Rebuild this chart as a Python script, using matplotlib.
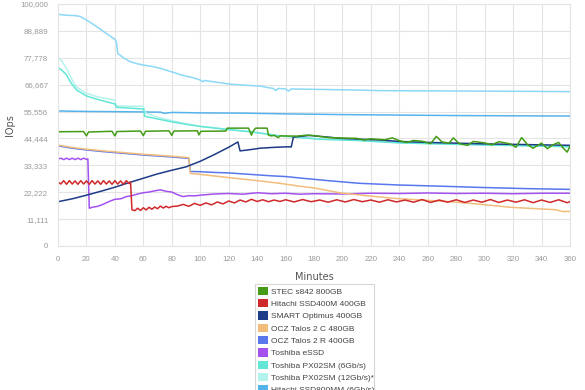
import matplotlib
matplotlib.use("Agg")
import matplotlib.pyplot as plt
from matplotlib.patches import Patch

# ---- data (minutes, IOps) ----
stec_x = [0, 18, 20, 21.5, 38, 40, 41.5, 58, 60, 61.5, 78, 80, 81.5, 98, 99, 100.5, 118, 119, 134, 135, 136, 137,
          139, 147, 148, 150, 152, 155, 156, 168, 175, 180, 190, 200, 210, 215, 220, 230, 235, 240, 245, 250, 256,
          262, 266, 270, 275, 278, 282, 288, 292, 300, 305, 310, 318, 322, 326, 330, 334, 340, 344, 348, 352, 355,
          358, 360]
stec_y = [47200, 47300, 45500, 47100, 47400, 45500, 47300, 47500, 45600, 47400, 47600, 45700, 47500, 47600, 45900,
          47400, 47500, 48700, 48700, 47300, 45800, 47300, 48700, 48700, 45800, 45500, 45700, 44800, 45500, 45400,
          45800, 45600, 44800, 44600, 44500, 43800, 44300, 43900, 44700, 43500, 42800, 43600, 43300, 42300, 45300,
          43000, 42500, 44700, 42300, 41600, 43200, 42600, 41800, 43100, 42200, 40800, 44800, 42000, 40400, 42500,
          40200, 41800, 42800, 40600, 38800, 41200]

hit400_x = [0, 2, 4, 6, 8, 10, 12, 14, 16, 18, 20, 22, 24, 26, 28, 30, 32, 34, 36, 38, 40, 42, 44, 46, 48, 50, 51,
            52, 54, 56, 58, 60, 62, 64, 66, 68, 70, 72, 74, 76, 78, 80, 84, 88, 92, 96, 100, 104, 108, 112, 116, 120,
            124, 128, 132, 136, 140, 144, 148, 152, 156, 160, 166, 172, 178, 184, 190, 196, 202, 208, 214, 220, 226,
            232, 238, 244, 250, 256, 262, 268, 274, 280, 286, 292, 298, 304, 310, 316, 322, 328, 334, 340, 346, 352,
            358, 360]
hit400_y = [26500, 25600, 27000, 25500, 27000, 25600, 26900, 25500, 27000, 25600, 26900, 25500, 27000, 25600, 26900,
            25500, 27000, 25600, 26900, 25500, 27000, 25600, 26900, 25500, 27000, 25800, 26500,
            15000, 14600, 15600, 14700, 15800, 14900, 16000, 15200, 16100, 15400, 16500, 15700, 16400, 15800, 16300,
            16500, 17200, 16400, 17600, 16800, 17800, 17000, 18200, 17400, 18600, 17800, 19000, 18200, 19300, 18400,
            19100, 18300, 19000, 18400, 19100, 18200, 19200, 18300, 19000, 18100, 19100, 18200, 19200, 18300, 19000,
            18100, 19100, 18200, 19000, 18100, 19200, 18000, 19000, 18100, 19100, 18000, 19000, 18100, 19200, 18000,
            19000, 18100, 19100, 17900, 19000, 18000, 19100, 17900, 18300]

smart_x = [0, 10, 20, 30, 40, 50, 60, 70, 80, 90, 100, 110, 120, 126.5, 128, 135, 142, 150, 157, 163, 164, 165.5,
           170, 177, 182, 190, 198, 210, 226, 240, 260, 280, 300, 320, 340, 360]
smart_y = [18300, 19500, 21000, 22600, 24300, 26200, 28000, 29800, 31300, 32700, 35000, 37800, 40800, 43000, 39300,
           39800, 40400, 40700, 40900, 41000, 40900, 45000, 45300, 45700, 45400, 45000, 44500, 44200, 43800, 43200,
           42800, 42500, 42200, 42000, 41800, 41600]

oczc_x = [0, 10, 20, 30, 40, 50, 60, 70, 80, 90, 92, 93, 100, 121, 140, 156, 170, 180, 198, 215, 236, 255, 276, 296,
          318, 340, 350, 355, 360]
oczc_y = [41700, 40700, 40000, 39400, 38900, 38400, 37900, 37500, 37100, 36600, 36500, 30000, 29600, 28200, 27000,
          25900, 24700, 24000, 22000, 20900, 19700, 19000, 18300, 17300, 16000, 15300, 15000, 14200, 14300]

oczr_x = [0, 10, 20, 30, 40, 50, 60, 70, 80, 90, 92, 93, 100, 110, 120, 135, 150, 160, 170, 190, 212, 240, 270, 297,
          330, 360]
oczr_y = [41400, 40400, 39700, 39100, 38600, 38100, 37600, 37200, 36800, 36300, 36200, 30800, 30700, 30400, 30200,
          29600, 29000, 28700, 28100, 27000, 25900, 25200, 24700, 24200, 23700, 23400]

essd_x = [0, 2, 4, 6, 8, 10, 12, 14, 16, 18, 20, 21, 22, 24, 28, 32, 36, 40, 44, 48, 52, 56, 60, 64, 68, 72, 76, 80,
          84, 88, 92, 96, 100, 110, 120, 130, 140, 150, 160, 170, 180, 200, 220, 240, 260, 280, 300, 320, 340, 360]
essd_y = [35900, 36300, 35700, 36300, 35700, 36300, 35700, 36300, 35700, 36300, 35800, 36000, 15600, 16000, 16400,
          17300, 18400, 19300, 19500, 20400, 20800, 21500, 22000, 22300, 22800, 23200, 22600, 22300, 21200, 20400,
          20800, 20700, 21000, 21500, 21700, 21400, 22000, 21600, 21800, 21400, 21600, 21500, 21800, 21700, 21900,
          21700, 21800, 21600, 21800, 21800]

px6_x = [0, 3, 6, 9, 13, 20, 29.5, 40, 41, 50, 60, 61, 70, 80, 90, 100, 120, 135, 156, 184, 210, 240, 280, 320, 360]
px6_y = [73800, 72500, 70700, 67500, 64500, 62000, 60300, 58700, 57300, 57000, 56600, 53600, 52500, 51300, 50300,
         49400, 48100, 47200, 45500, 44100, 43600, 42600, 42000, 41500, 41000]

px12_x = [0, 3, 6, 10, 13, 20, 29.5, 40, 41, 50, 60, 61.5, 70, 80, 90, 100, 120, 135, 156, 184, 210, 240, 280, 320,
          360]
px12_y = [78000, 76200, 73400, 68600, 65600, 63100, 61400, 60300, 57900, 57800, 57700, 55000, 53200, 51800, 50500,
          49500, 48200, 47300, 45600, 44300, 43700, 42700, 42100, 41600, 41100]

mm6_x = [0, 20, 40, 60, 72, 75, 80, 100, 130, 160, 200, 240, 280, 320, 360]
mm6_y = [55800, 55600, 55500, 55400, 55300, 54800, 55200, 55000, 54900, 54600, 54300, 54100, 53900, 53800, 53700]

mm12_x = [0, 5, 12, 15.5, 20, 25, 29.5, 35, 40, 41, 42, 46, 50.6, 55, 60, 66, 72, 78, 82, 86, 90, 94, 100, 102, 103,
          110, 121, 130, 142, 149, 151, 153, 155, 160, 162, 164, 184, 205, 226, 260, 300, 330, 360]
mm12_y = [95700, 95400, 95200, 94900, 93400, 91500, 89700, 87400, 85400, 84500, 79600, 77800, 76200, 75400, 74800,
          74200, 73400, 72300, 71600, 70800, 70200, 69700, 68600, 67800, 68400, 67800, 66900, 66500, 66100, 65300,
          65200, 64300, 65100, 64900, 64000, 64900, 64700, 64500, 64200, 64100, 64000, 63900, 63800]

series_names = ["STEC s842 800GB", "Hitachi SSD400M 400GB", "SMART Optimus 400GB", "OCZ Talos 2 C 480GB",
                "OCZ Talos 2 R 400GB", "Toshiba eSSD", "Toshiba PX02SM (6Gb/s)", "Toshiba PX02SM (12Gb/s)*",
                "Hitachi SSD800MM (6Gb/s)", "Hitachi SSD800MM (12Gb/s)"]
series_x = [stec_x, hit400_x, smart_x, oczc_x, oczr_x, essd_x, px6_x, px12_x, mm6_x, mm12_x]
series_y = [stec_y, hit400_y, smart_y, oczc_y, oczr_y, essd_y, px6_y, px12_y, mm6_y, mm12_y]
colors = ["#449c16", "#d0292b", "#1d3b86", "#f2bd7b", "#5877ec", "#a452ef", "#63e6d6", "#b4f2ec", "#54b3ea",
          "#8cd8f7"]

y_ticks = [0, 11111, 22222, 33333, 44444, 55556, 66667, 77778, 88889, 100000]
x_ticks = list(range(0, 361, 20))

fig = plt.figure(figsize=(5.85, 3.9), dpi=100)
ax = fig.add_axes([58 / 585, 144 / 390, 512 / 585, 242 / 390])

# draw back to front so the upper lines sit on top like the reference
for i in range(len(series_names) - 1, -1, -1):
    ax.plot(series_x[i], series_y[i], color=colors[i], lw=1.1, solid_joinstyle="round")

ax.set_xlim(0, 360)
ax.set_ylim(0, 100000)
ax.set_xticks(x_ticks)
ax.set_yticks(y_ticks)
ax.set_yticklabels([f"{v:,}" for v in y_ticks])
ax.grid(True, color="#e4e4e4", lw=0.8)
ax.set_axisbelow(True)
for s in ax.spines.values():
    s.set_color("#e4e4e4")
    s.set_linewidth(0.8)
ax.tick_params(length=0, labelsize=5.7, labelcolor="#9a9a9a", pad=7)
for lab in ax.get_xticklabels() + ax.get_yticklabels():
    lab.set_family("Liberation Sans")

ax.set_xlabel("Minutes", fontsize=7, color="#555555", labelpad=7)
ax.set_ylabel("IOps", fontsize=7, color="#555555", labelpad=4)

handles = [Patch(facecolor=c, edgecolor="none") for c in colors]
leg = fig.legend(handles, series_names, loc="upper left", mode="expand",
                 bbox_to_anchor=(255 / 585, 0, 119 / 585, 106 / 390), borderaxespad=0,
                 prop={"family": "Liberation Sans", "size": 6}, frameon=True, fancybox=False,
                 edgecolor="#cccccc", handlelength=1.2, handleheight=1.2, handletextpad=0.4,
                 labelspacing=0.39, borderpad=0.3)
leg.get_frame().set_linewidth(0.8)
for t in leg.get_texts():
    t.set_color("#444444")

fig.savefig("out.png", dpi=100)
